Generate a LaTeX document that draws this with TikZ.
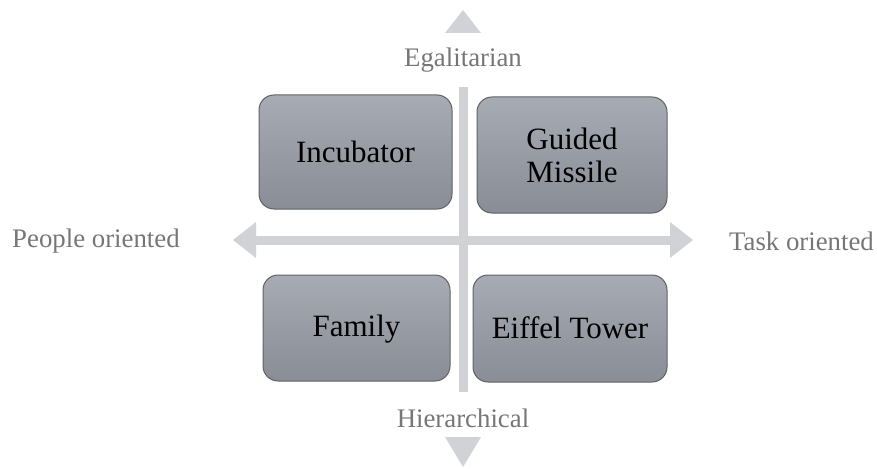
\documentclass[tikz,border=0pt]{standalone}
\usepackage{fontspec}
\setmainfont{Liberation Serif}
\definecolor{axisgray}{RGB}{208,210,214}
\definecolor{labelgray}{RGB}{118,118,118}
\definecolor{boxtop}{RGB}{167,171,179}
\definecolor{boxbottom}{RGB}{136,141,150}
\definecolor{boxedge}{RGB}{96,98,102}
\tikzset{
  quadbox/.style={draw=boxedge, line width=1pt, rounded corners=15pt,
    top color=boxtop, bottom color=boxbottom},
  quadtext/.style={font=\fontsize{31}{33}\selectfont, text=black, align=center},
  axislabel/.style={font=\fontsize{26.8}{29}\selectfont, text=labelgray},
  axisfill/.style={fill=axisgray, draw=none}
}
\begin{document}
\begin{tikzpicture}[x=1pt, y=-1pt]
  \useasboundingbox (0,0) rectangle (877,468);

  % horizontal axis with both arrowheads
  \fill[axisfill] (256,235.5) rectangle (670,244.5);
  \fill[axisfill] (233,240) -- (256,222) -- (256,258) -- cycle;
  \fill[axisfill] (693,240) -- (670,222) -- (670,258) -- cycle;

  % vertical axis, split around the end labels
  \fill[axisfill] (458.5,87) rectangle (467.5,392);
  \fill[axisfill] (463,10) -- (445,33) -- (481,33) -- cycle;
  \fill[axisfill] (463,467) -- (445,437) -- (481,437) -- cycle;

  % quadrants
  \draw[quadbox] (259,95) rectangle (452,209);
  \node[quadtext] (incubator) at (355.5,152) {Incubator};
  \draw[quadbox] (477,97) rectangle (667,213);
  \node[quadtext] (missile) at (572,155) {Guided\\Missile};
  \draw[quadbox] (263,275) rectangle (450,381);
  \node[quadtext] (family) at (356.5,329) {Family};
  \draw[quadbox] (473,275) rectangle (667,382);
  \node[quadtext] (eiffel) at (570,328) {Eiffel Tower};

  % axis labels
  \node[axislabel] (egal) at (463,60) {Egalitarian};
  \node[axislabel] (hier) at (463,418) {Hierarchical};
  \node[axislabel, anchor=west, inner sep=0pt] (people) at (12,241) {People oriented};
  \node[axislabel, anchor=east, inner sep=0pt] (task) at (874,241) {Task oriented};
\end{tikzpicture}
\end{document}
